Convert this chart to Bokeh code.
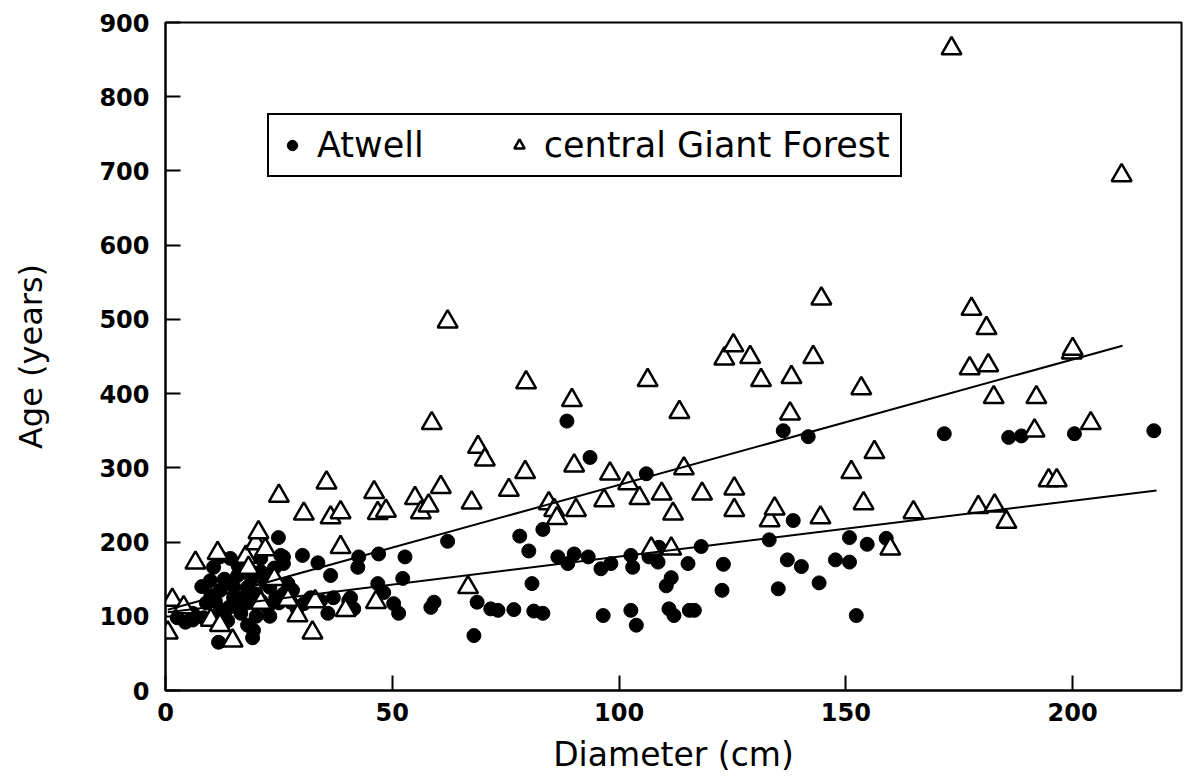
from bokeh.plotting import figure
from bokeh.models import Range1d, FixedTicker, Legend, LegendItem
from bokeh.embed import file_html
from bokeh.resources import INLINE

# ---- data ----
atwell_x = [171.7, 185.9, 188.7, 200.4, 217.9,
            136.2, 141.7, 106.0, 138.4, 133.1, 118.1, 150.8, 154.7, 158.9, 108.8, 106.6, 108.6,
            102.6, 103.0, 115.2, 123.0, 137.1, 140.2, 147.7, 150.8, 111.5, 110.4, 144.1, 122.7,
            135.1, 102.6, 103.8, 111.0, 112.1, 115.5, 116.6, 152.3,
            88.5, 93.6, 62.2, 78.1, 83.2, 80.1, 47.0, 52.8, 42.6, 42.4, 52.3, 46.8, 48.1, 40.8,
            50.3, 51.4, 41.5, 59.2, 58.5, 68.7, 71.7, 73.3, 76.8, 81.2, 83.2, 80.8, 68.0, 86.5,
            90.1, 93.2, 88.7, 96.0, 98.2, 96.5,
            24.9, 30.2, 33.6, 36.4, 14.3, 10.6, 9.9, 15.9, 25.4, 23.6, 12.1, 15.0, 18.1, 21.0,
            24.3, 27.6, 30.5, 34.2, 6.0, 8.4, 4.4, 12.1, 13.7, 16.6, 18.1, 19.4, 11.7, 19.2,
            35.8, 22.5, 40.4,
            8.0, 11.0, 13.0, 16.0, 17.0, 19.0, 20.0, 22.0, 26.0, 28.0, 32.0, 37.0, 14.0, 9.0,
            20.0, 23.0, 25.0, 29.0, 17.0, 26.0, 21.0, 12.0, 6.0, 2.6, 26.0, 27.0, 23.0,
            10.0, 15.0, 18.0, 21.0, 24.0, 13.0, 16.0, 19.0]
atwell_y = [346, 341, 343, 346, 350,
            350, 342, 292, 229, 203, 194, 206, 197, 205, 193, 180, 173,
            182, 166, 171, 170, 176, 167, 176, 173, 152, 141, 145, 135,
            137, 108, 88, 110, 101, 108, 108, 101,
            363, 314, 201, 208, 217, 188, 184, 180, 180, 166, 151, 144, 132, 125,
            117, 104, 110, 119, 112, 119, 110, 108, 109, 107, 104, 144, 74, 180,
            184, 180, 171, 164, 171, 101,
            206, 182, 172, 155, 178, 166, 148, 155, 182, 152, 135, 125, 139, 121,
            125, 119, 117, 121, 104, 98, 92, 108, 94, 104, 88, 81, 65, 71,
            104, 112, 121,
            140, 120, 150, 115, 170, 160, 130, 145, 130, 135, 125, 125, 112, 118,
            100, 100, 118, 110, 125, 180, 178, 180, 95, 98, 171, 144, 139,
            128, 140, 118, 160, 165, 100, 168, 150]

gf_x = [0.5, 1.5, 4.0, 6.6, 10.0, 11.5, 12.0, 14.8, 17.7, 18.3, 19.9, 20.5, 22.0, 24.0,
        25.0, 29.1, 30.5, 32.4, 33.0, 35.5, 36.4, 38.6, 38.6, 39.7, 46.0, 46.8, 48.6, 46.4,
        55.0, 56.3, 58.0, 58.7, 60.7, 62.2, 66.7, 67.5, 68.9, 70.4, 75.7, 79.3, 79.5, 84.5,
        85.7, 86.3, 89.6, 90.1, 90.5, 96.7, 98.0, 102.0, 104.5, 106.3, 107.1, 109.4, 111.5,
        111.9, 113.3, 114.3, 118.3, 123.2, 125.2, 125.4, 125.4, 128.9, 131.3, 133.2, 134.3,
        137.7, 138.0, 142.8, 144.4, 144.6, 151.2, 153.4, 153.9, 156.3, 159.8, 164.9, 173.3,
        177.7, 177.3, 179.2, 181.0, 181.4, 182.6, 182.8, 185.4, 191.6, 192.0, 194.7, 196.5,
        199.8, 200.0, 204.0, 210.8, 21.0, 27.0]
gf_y = [78, 122, 112, 172, 95, 185, 88, 67, 180, 165, 198, 213, 190, 150,
        262, 101, 238, 78, 120, 280, 233, 240, 193, 108, 267, 239, 242, 119,
        259, 240, 249, 360, 274, 497, 139, 253, 328, 311, 270, 294, 415, 252,
        243, 232, 391, 303, 243, 256, 292, 279, 259, 418, 191, 265, 191,
        238, 375, 299, 265, 447, 465, 272, 243, 449, 418, 229, 245,
        373, 422, 449, 233, 528, 294, 407, 252, 321, 191, 240, 865,
        514, 434, 247, 488, 438, 395, 249, 227, 350, 395, 283, 283,
        455, 460, 360, 694, 118, 122]

# regression lines: intercept, slope, x extent
atwell_fit = [105.0, 0.753]
atwell_fit_x = [0.5, 218.5]
gf_fit = [108.0, 1.69]
gf_fit_x = [0.5, 211.0]

x_ticks = [0, 50, 100, 150, 200]
y_ticks = [0, 100, 200, 300, 400, 500, 600, 700, 800, 900]

FONT = "DejaVu Sans"

p = figure(width=1188, height=781, x_range=Range1d(0, 224), y_range=Range1d(0, 900),
           output_backend="svg", toolbar_location=None,
           min_border_left=165, min_border_right=7, min_border_top=22, min_border_bottom=91)
p.background_fill_color = "white"
p.border_fill_color = "white"
p.outline_line_color = "black"
p.outline_line_width = 2
p.outline_line_alpha = 1.0
p.xgrid.visible = False
p.ygrid.visible = False

for ax, ticks in ((p.xaxis, x_ticks), (p.yaxis, y_ticks)):
    ax.ticker = FixedTicker(ticks=ticks)
    ax.major_tick_in = 15
    ax.major_tick_out = 0
    ax.minor_tick_line_color = None
    ax.axis_line_width = 2
    ax.axis_line_color = "black"
    ax.major_tick_line_width = 2
    ax.major_tick_line_color = "black"
    ax.major_label_text_font = FONT
    ax.major_label_text_font_size = "24px"
    ax.major_label_text_font_style = "bold"
    ax.major_label_text_color = "black"
    ax.axis_label_text_font = FONT
    ax.axis_label_text_font_style = "normal"
    ax.axis_label_text_color = "black"

p.xaxis.axis_label = "Diameter (cm)"
p.xaxis.axis_label_text_font_size = "33px"
p.xaxis.major_label_standoff = 12
p.xaxis.axis_label_standoff = 11

p.yaxis.axis_label = "Age (years)"
p.yaxis.axis_label_text_font_size = "32px"
p.yaxis.major_label_standoff = 16
p.yaxis.axis_label_standoff = 46

r_at = p.scatter(atwell_x, atwell_y, marker="circle", size=14,
                 fill_color="black", line_color="black", line_width=1)
r_gf = p.scatter(gf_x, gf_y, marker="triangle", size=20,
                 fill_color="white", line_color="black", line_width=2.5)

at_line_y = [atwell_fit[0] + atwell_fit[1] * x for x in atwell_fit_x]
gf_line_y = [gf_fit[0] + gf_fit[1] * x for x in gf_fit_x]
p.line(atwell_fit_x, at_line_y, line_color="black", line_width=2)
p.line(gf_fit_x, gf_line_y, line_color="black", line_width=2)

legend = Legend(items=[LegendItem(label="Atwell", renderers=[r_at]),
                       LegendItem(label="central Giant Forest", renderers=[r_gf])],
                orientation="horizontal", location=(102, 513), margin=0,
                padding=10, spacing=82, glyph_width=26, glyph_height=26,
                label_standoff=12, label_text_font=FONT, label_text_font_size="35px",
                label_text_color="black", border_line_color="black",
                border_line_width=2, border_line_alpha=1.0,
                background_fill_color="white", background_fill_alpha=1.0)
p.add_layout(legend)

open("out.html", "w").write(file_html(p, INLINE))
